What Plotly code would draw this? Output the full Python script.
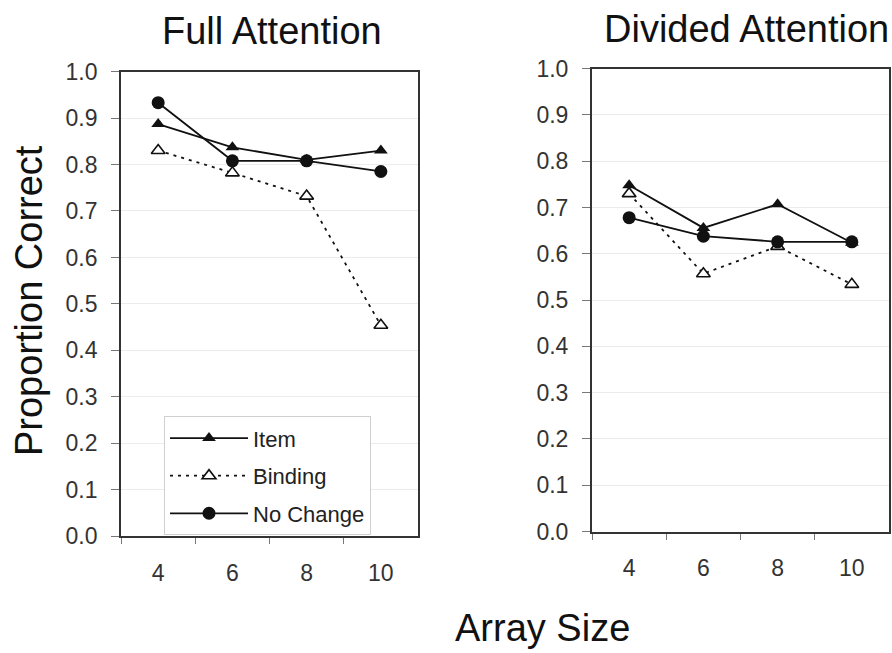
import plotly.graph_objects as go

sizes = ["4", "6", "8", "10"]
full_item = [0.887, 0.837, 0.810, 0.830]
full_binding = [0.830, 0.782, 0.732, 0.454]
full_nochange = [0.933, 0.808, 0.808, 0.785]
div_item = [0.748, 0.656, 0.707, 0.624]
div_binding = [0.730, 0.557, 0.616, 0.534]
div_nochange = [0.678, 0.638, 0.626, 0.626]
y_ticks = [0.0, 0.1, 0.2, 0.3, 0.4, 0.5, 0.6, 0.7, 0.8, 0.9, 1.0]

FONT = "Liberation Sans, Arial, sans-serif"
fig = go.Figure()

def add_series(xa, ya, item, binding, nochange, show):
    fig.add_trace(go.Scatter(x=sizes, y=item, name="Item", mode="lines+markers",
                             xaxis=xa, yaxis=ya, showlegend=show, legendgroup="a",
                             line=dict(color="#111", width=1.8),
                             marker=dict(symbol="triangle-up", size=12, color="#111")))
    fig.add_trace(go.Scatter(x=sizes, y=binding, name="Binding", mode="lines+markers",
                             xaxis=xa, yaxis=ya, showlegend=show, legendgroup="b",
                             line=dict(color="#111", width=1.8, dash="3px,5px"),
                             marker=dict(symbol="triangle-up", size=12, color="white",
                                         line=dict(color="#111", width=1.6))))
    fig.add_trace(go.Scatter(x=sizes, y=nochange, name="No Change", mode="lines+markers",
                             xaxis=xa, yaxis=ya, showlegend=show, legendgroup="c",
                             line=dict(color="#111", width=1.8),
                             marker=dict(symbol="circle", size=13, color="#111")))

add_series("x", "y", full_item, full_binding, full_nochange, True)
add_series("x2", "y2", div_item, div_binding, div_nochange, False)

xcommon = dict(type="category", categoryorder="array", categoryarray=sizes,
               range=[-0.5, 3.5], tickson="boundaries", ticks="outside", ticklen=6,
               tickcolor="#777", tickwidth=1, showline=True, linecolor="#333",
               linewidth=2, mirror=True, showgrid=False, ticklabelstandoff=15,
               tickfont=dict(family=FONT, size=23, color="#333"))
ycommon = dict(range=[0, 1], tickvals=y_ticks, ticktext=[f"{v:.1f}" for v in y_ticks],
               ticks="outside", ticklen=8, tickcolor="#777", tickwidth=1,
               showline=True, linecolor="#333", linewidth=2, mirror=True,
               showgrid=True, gridcolor="#ececec", gridwidth=1, zeroline=False,
               ticklabelstandoff=9, tickfont=dict(family=FONT, size=23, color="#333"))

fig.update_layout(
    width=892, height=653,
    margin=dict(l=0, r=0, t=0, b=0),
    paper_bgcolor="white", plot_bgcolor="white",
    font=dict(family=FONT, color="#111"),
    xaxis=dict(domain=[0.1357, 0.4686], anchor="y", **xcommon),
    yaxis=dict(domain=[0.1654, 0.9066], anchor="x", **ycommon),
    xaxis2=dict(domain=[0.6637, 0.9966], anchor="y2", **xcommon),
    yaxis2=dict(domain=[0.173, 0.9112], anchor="x2", **ycommon),
    legend=dict(x=164 / 892, y=(653 - 420) / 653, xanchor="left", yanchor="top",
                bgcolor="white", bordercolor="#d0d0d0", borderwidth=1,
                font=dict(family=FONT, size=22, color="#222"),
                tracegroupgap=6, itemwidth=78, traceorder="grouped"),
    annotations=[
        dict(text="Full Attention", x=271.5 / 892, y=1 - 19 / 653, xref="paper", yref="paper",
             xanchor="center", yanchor="middle", showarrow=False,
             font=dict(family=FONT, size=38, color="#111")),
        dict(text="Divided Attention", x=746.5 / 892, y=1 - 17 / 653, xref="paper", yref="paper",
             xanchor="center", yanchor="middle", showarrow=False,
             font=dict(family=FONT, size=38, color="#111")),
        dict(text="Array Size", x=542.5 / 892, y=1 - 641 / 653, xref="paper", yref="paper",
             xanchor="center", yanchor="middle", showarrow=False,
             font=dict(family=FONT, size=38, color="#111")),
        dict(text="Proportion Correct", x=29 / 892, y=1 - 300 / 653, xref="paper", yref="paper",
             xanchor="center", yanchor="middle", showarrow=False, textangle=-90,
             font=dict(family=FONT, size=38, color="#111")),
    ],
)

fig.write_html("out.html", config={"displayModeBar": False},
               post_script="document.body.style.margin='0';document.body.style.overflow='hidden';")
